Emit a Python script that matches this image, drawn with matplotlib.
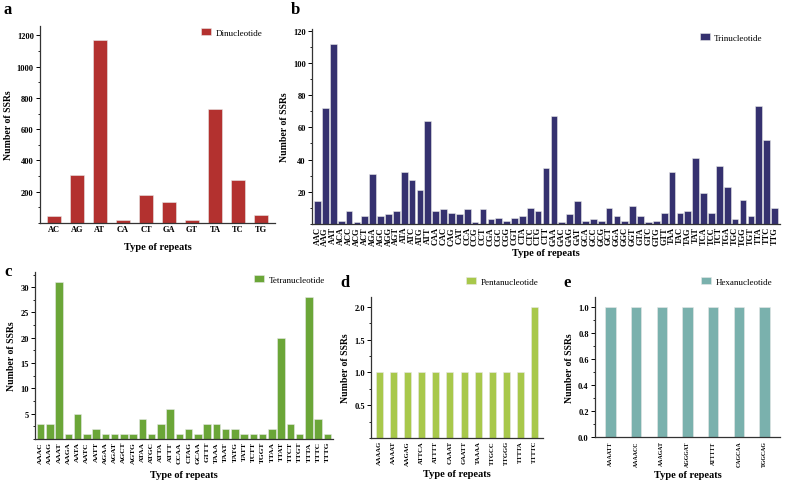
import matplotlib
matplotlib.use("Agg")
import matplotlib.pyplot as plt
from matplotlib.ticker import MultipleLocator

plt.rcParams['font.family'] = ['Liberation Serif', 'DejaVu Serif']

di_labels = ["AC", "AG", "AT", "CA", "CT", "GA", "GT", "TA", "TC", "TG"]
di_values = [45, 310, 1170, 22, 180, 135, 22, 730, 277, 52]

tri_labels = ["AAC", "AAG", "AAT", "ACA", "ACC", "ACG", "ACT", "AGA", "AGC", "AGG", "AGT",
              "ATA", "ATC", "ATG", "ATT", "CAA", "CAC", "CAG", "CAT", "CCA", "CCG", "CCT",
              "CGA", "CGC", "CGG", "CGT", "CTA", "CTC", "CTG", "CTT", "GAA", "GAC", "GAG",
              "GAT", "GCA", "GCC", "GCG", "GCT", "GGA", "GGC", "GGT", "GTA", "GTC", "GTG",
              "GTT", "TAA", "TAC", "TAG", "TAT", "TCA", "TCC", "TCT", "TGA", "TGC", "TGG",
              "TGT", "TTA", "TTC", "TTG"]
tri_values = [14, 72, 112, 2, 8, 1, 5, 31, 5, 6, 8,
              32, 27, 21, 64, 8, 9, 7, 6, 9, 1, 9,
              3, 4, 2, 4, 5, 10, 8, 35, 67, 1, 6,
              14, 2, 3, 2, 10, 5, 2, 11, 5, 1, 2,
              7, 32, 7, 8, 41, 19, 7, 36, 23, 3, 15,
              5, 73, 52, 10]

tetra_labels = ["AAAC", "AAAG", "AAAT", "AAGA", "AATA", "AATC", "AATT", "AGAA", "AGAT",
                "AGCT", "AGTG", "ATAA", "ATGC", "ATTA", "ATTT", "CCAA", "CTAG", "GCAA",
                "GTTT", "TAAA", "TAAT", "TATG", "TATT", "TCTT", "TGGT", "TTAA", "TTAT",
                "TTCT", "TTGT", "TTTA", "TTTC", "TTTG"]
tetra_values = [3, 3, 31, 1, 5, 1, 2, 1, 1, 1, 1, 4, 1, 3, 6, 1, 2, 1,
                3, 3, 2, 2, 1, 1, 1, 2, 20, 3, 1, 28, 4, 1]

penta_labels = ["AAAAG", "AAAAT", "AAGAG", "ATTCA", "ATTTT", "CAAAT", "GAATT",
                "TAAAA", "TTGCC", "TTGGG", "TTTTA", "TTTTC"]
penta_values = [1, 1, 1, 1, 1, 1, 1, 1, 1, 1, 1, 2]

hexa_labels = ["AAAATT", "AAAACC", "AAAGAT", "AGGGAT", "ATTTTT", "CAGCAA", "TGGCAG"]
hexa_values = [1, 1, 1, 1, 1, 1, 1]

W, H = 787, 481
fig = plt.figure(figsize=(W / 100, H / 100), dpi=100)


def ax_at(x0, y0, x1, y1):
    ax = fig.add_axes([x0 / W, 1 - y1 / H, (x1 - x0) / W, (y1 - y0) / H])
    ax._px = (x0, y0, x1, y1)
    return ax


def panel(ax, labels, values, color, width, ylim, major, minor, legend, letter,
          letter_xy, rot, xfs, xlabel_y, fmt=None, leg_xy=(0.98, 1.0), pad=1.5):
    x = list(range(len(labels)))
    ax.bar(x, values, width=width, color=color, edgecolor='#e8e8e8', linewidth=0.4,
           label=legend)
    ax.set_xlim(-0.6, len(labels) - 0.4)
    ax.set_ylim(0, ylim)
    ax.yaxis.set_major_locator(MultipleLocator(major))
    ax.yaxis.set_minor_locator(MultipleLocator(minor))
    ax.set_xticks(x)
    ax.set_xticklabels(labels, rotation=rot, fontsize=xfs, fontweight='bold')
    for s in ['top', 'right']:
        ax.spines[s].set_visible(False)
    for s in ['left', 'bottom']:
        ax.spines[s].set_color('#333333')
        ax.spines[s].set_linewidth(0.9)
    ax.tick_params(axis='x', length=0, pad=pad)
    ax.tick_params(axis='y', which='major', length=3, width=0.7, labelsize=6, pad=1.5)
    ax.tick_params(axis='y', which='minor', length=1.8, width=0.6)
    for t in ax.get_yticklabels():
        t.set_fontweight('bold')
    if fmt:
        ax.yaxis.set_major_formatter(fmt)
    ax.set_ylabel("Number of SSRs", fontsize=7, fontweight='bold', labelpad=3)
    ax.set_xlabel("Type of repeats", fontsize=7.5, fontweight='bold', va='center')
    x0, y0, x1, y1 = ax._px
    ax.xaxis.set_label_coords(0.5, (y1 - xlabel_y) / (y1 - y0))
    ax.legend(loc='upper right', bbox_to_anchor=leg_xy, frameon=False, fontsize=6.5,
              handlelength=1.1, handleheight=0.8, handletextpad=0.5)
    fig.text(letter_xy[0] / W, 1 - letter_xy[1] / H, letter, fontsize=12,
             fontweight='bold', va='center', ha='left')


# Panel a
ax_a = ax_at(40, 27, 275, 224)
panel(ax_a, di_labels, di_values, '#B3312F', 0.6, 1260, 200, 100, 'Dinucleotide',
      'a', (4, 10), 0, 6, 248, leg_xy=(0.98, 1.03))
ax_a.set_yticks([200, 400, 600, 800, 1000, 1200])

# Panel b
ax_b = ax_at(312, 30, 780, 225)
panel(ax_b, tri_labels, tri_values, '#35316F', 0.85, 121, 20, 10, 'Trinucleotide',
      'b', (291, 10), 90, 6, 254, leg_xy=(0.98, 1.02))
ax_b.set_yticks([20, 40, 60, 80, 100, 120])
ax_b.set_xlim(-0.7, len(tri_labels) - 0.3)

# Panel c
ax_c = ax_at(35, 273, 333, 440)
panel(ax_c, tetra_labels, tetra_values, '#6BA638', 0.8, 33, 5, 2.5, 'Tetranucleotide',
      'c', (4, 272), 90, 5.3, 475, leg_xy=(1.0, 1.03))
ax_c.set_yticks([5, 10, 15, 20, 25, 30])

# Panel d
ax_d = ax_at(371, 298, 543, 439)
panel(ax_d, penta_labels, penta_values, '#A8C84B', 0.5, 2.15, 0.5, 0.25,
      'Pentanucleotide', 'd', (340, 283), 90, 4.8, 475, fmt='{x:.1f}', leg_xy=(1.02, 1.2))
ax_d.set_yticks([0.5, 1.0, 1.5, 2.0])

# Panel e
ax_e = ax_at(595, 298, 780, 438)
panel(ax_e, hexa_labels, hexa_values, '#7AB1AD', 0.4, 1.08, 0.2, 0.1,
      'Hexanucleotide', 'e', (563, 283), 90, 4.2, 475, fmt='{x:.1f}', leg_xy=(1.0, 1.2),
      pad=2.5)

fig.savefig("out.png", dpi=100)
